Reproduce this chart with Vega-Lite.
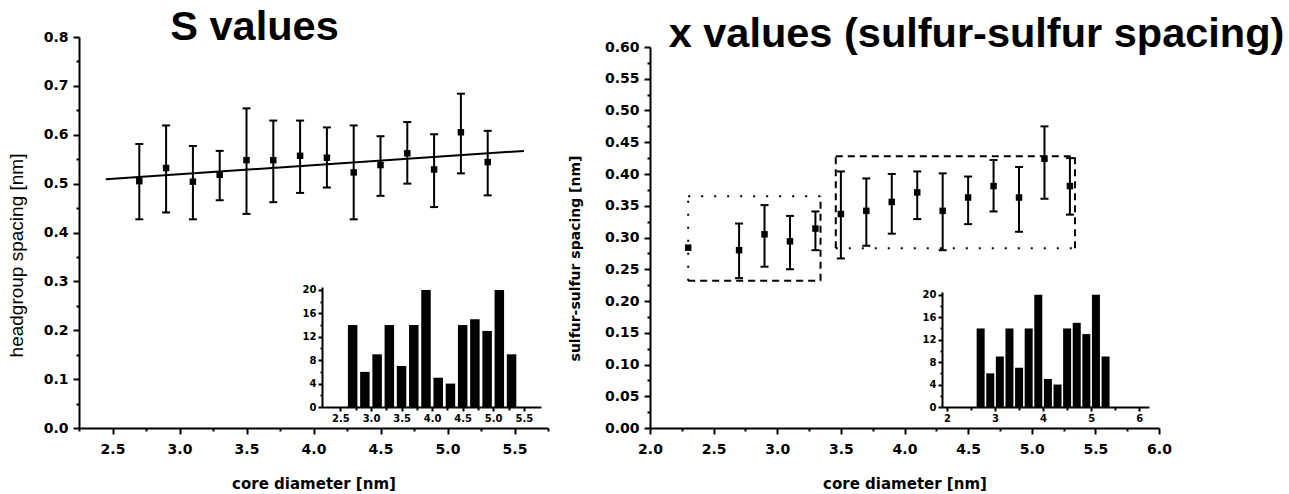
{
  "$schema": "https://vega.github.io/schema/vega-lite/v6.json",
  "background": "white",
  "padding": {"left": 7, "top": 6, "right": 0, "bottom": 0},
  "autosize": {"type": "pad"},
  "spacing": 19,
  "config": {
    "view": {"stroke": null},
    "axis": {"grid": false, "domainColor": "black", "domainWidth": 2, "tickColor": "black", "tickWidth": 2, "labelColor": "black", "titleColor": "black", "labelFont": "DejaVu Sans", "labelFontWeight": "bold", "labelFontSize": 14, "labelFlush": false, "labelOverlap": false, "labelPadding": 5, "titleFont": "DejaVu Sans", "titleFontWeight": "bold", "titleFontSize": 14}
  },
  "datasets": {
    "s_fit": [{"d": 2.45, "s": 0.509}, {"d": 5.57, "s": 0.567}],
    "s_pts": [
      {"d": 2.7, "s": 0.505, "lo": 0.427, "hi": 0.581},
      {"d": 2.9, "s": 0.532, "lo": 0.441, "hi": 0.619},
      {"d": 3.1, "s": 0.504, "lo": 0.427, "hi": 0.577},
      {"d": 3.3, "s": 0.518, "lo": 0.466, "hi": 0.567},
      {"d": 3.5, "s": 0.548, "lo": 0.438, "hi": 0.654},
      {"d": 3.7, "s": 0.548, "lo": 0.462, "hi": 0.629},
      {"d": 3.9, "s": 0.557, "lo": 0.481, "hi": 0.629},
      {"d": 4.1, "s": 0.553, "lo": 0.492, "hi": 0.615},
      {"d": 4.3, "s": 0.523, "lo": 0.427, "hi": 0.619},
      {"d": 4.5, "s": 0.538, "lo": 0.475, "hi": 0.597},
      {"d": 4.7, "s": 0.562, "lo": 0.5, "hi": 0.626},
      {"d": 4.9, "s": 0.529, "lo": 0.452, "hi": 0.601},
      {"d": 5.1, "s": 0.605, "lo": 0.521, "hi": 0.684},
      {"d": 5.3, "s": 0.544, "lo": 0.476, "hi": 0.608}
    ],
    "hist": [
      {"d": 2.7, "n": 14}, {"d": 2.9, "n": 6}, {"d": 3.1, "n": 9}, {"d": 3.3, "n": 14},
      {"d": 3.5, "n": 7}, {"d": 3.7, "n": 14}, {"d": 3.9, "n": 20}, {"d": 4.1, "n": 5},
      {"d": 4.3, "n": 4}, {"d": 4.5, "n": 14}, {"d": 4.7, "n": 15}, {"d": 4.9, "n": 13},
      {"d": 5.1, "n": 20}, {"d": 5.3, "n": 9}
    ],
    "x_pts": [
      {"d": 2.3, "s": 0.284},
      {"d": 2.7, "s": 0.28, "lo": 0.236, "hi": 0.322},
      {"d": 2.9, "s": 0.305, "lo": 0.254, "hi": 0.351},
      {"d": 3.1, "s": 0.294, "lo": 0.25, "hi": 0.334},
      {"d": 3.3, "s": 0.314, "lo": 0.28, "hi": 0.341},
      {"d": 3.5, "s": 0.337, "lo": 0.267, "hi": 0.404},
      {"d": 3.7, "s": 0.342, "lo": 0.287, "hi": 0.393},
      {"d": 3.9, "s": 0.356, "lo": 0.306, "hi": 0.4},
      {"d": 4.1, "s": 0.371, "lo": 0.329, "hi": 0.404},
      {"d": 4.3, "s": 0.342, "lo": 0.28, "hi": 0.401},
      {"d": 4.5, "s": 0.363, "lo": 0.321, "hi": 0.396},
      {"d": 4.7, "s": 0.381, "lo": 0.341, "hi": 0.422},
      {"d": 4.9, "s": 0.363, "lo": 0.309, "hi": 0.411},
      {"d": 5.1, "s": 0.424, "lo": 0.361, "hi": 0.475},
      {"d": 5.3, "s": 0.381, "lo": 0.336, "hi": 0.425}
    ],
    "x_box": [
      {"x": 2.3, "x2": 3.34, "y": 0.232, "y2": 0.232, "style": "dash"},
      {"x": 3.34, "x2": 3.34, "y": 0.232, "y2": 0.365, "style": "dash"},
      {"x": 2.3, "x2": 3.34, "y": 0.365, "y2": 0.365, "style": "dot"},
      {"x": 2.3, "x2": 2.3, "y": 0.232, "y2": 0.365, "style": "dot"},
      {"x": 3.46, "x2": 5.34, "y": 0.428, "y2": 0.428, "style": "dash"},
      {"x": 5.34, "x2": 5.34, "y": 0.283, "y2": 0.428, "style": "dash"},
      {"x": 3.46, "x2": 5.34, "y": 0.283, "y2": 0.283, "style": "dot"},
      {"x": 3.46, "x2": 3.46, "y": 0.283, "y2": 0.428, "style": "dash"}
    ]
  },
  "hconcat": [
    {
      "width": 469,
      "height": 391,
      "title": {"text": "S values", "font": "Liberation Sans", "fontSize": 41.5, "fontWeight": "bold", "color": "black", "anchor": "middle", "dx": -59, "offset": -51, "baseline": "alphabetic"},
      "layer": [
        {"data": {"name": "s_fit"}, "mark": {"type": "line", "color": "black", "strokeWidth": 2},
          "encoding": {
            "x": {"field": "d", "type": "quantitative", "scale": {"domain": [2.25, 5.75], "nice": false, "zero": false},
              "axis": {"orient": "bottom", "title": "core diameter [nm]", "titleFontSize": 15, "titlePadding": 20,
                "values": [2.25, 2.5, 2.75, 3, 3.25, 3.5, 3.75, 4, 4.25, 4.5, 4.75, 5, 5.25, 5.5, 5.75],
                "labelExpr": "round(datum.value*100) % 50 == 0 ? format(datum.value, '.1f') : ''",
                "tickSize": {"condition": {"test": "round(datum.value*100) % 50 == 0", "value": 6}, "value": 3},
                "labelPadding": 8}},
            "y": {"field": "s", "type": "quantitative", "scale": {"domain": [0, 0.8], "nice": false},
              "axis": {"orient": "left", "title": "headgroup spacing [nm]", "titleFont": "Liberation Sans", "titleFontWeight": "normal", "titleFontSize": 19, "titleX": -53, "titleY": 218,
                "values": [0, 0.05, 0.1, 0.15, 0.2, 0.25, 0.3, 0.35, 0.4, 0.45, 0.5, 0.55, 0.6, 0.65, 0.7, 0.75, 0.8],
                "labelExpr": "round(datum.value*100) % 10 == 0 ? format(datum.value, '.1f') : ''",
                "tickSize": {"condition": {"test": "round(datum.value*100) % 10 == 0", "value": 6}, "value": 3}}}}},
        {"data": {"name": "s_pts"}, "mark": {"type": "rule", "color": "black", "strokeWidth": 2},
          "encoding": {
            "x": {"field": "d", "type": "quantitative", "scale": {"domain": [2.25, 5.75], "nice": false, "zero": false}, "axis": null},
            "y": {"field": "lo", "type": "quantitative", "scale": {"domain": [0, 0.8], "nice": false}, "axis": null}, "y2": {"field": "hi"}}},
        {"data": {"name": "s_pts"}, "mark": {"type": "tick", "orient": "horizontal", "color": "black", "size": 8, "thickness": 2, "opacity": 1},
          "encoding": {
            "x": {"field": "d", "type": "quantitative", "scale": {"domain": [2.25, 5.75], "nice": false, "zero": false}, "axis": null},
            "y": {"field": "lo", "type": "quantitative", "scale": {"domain": [0, 0.8], "nice": false}, "axis": null}}},
        {"data": {"name": "s_pts"}, "mark": {"type": "tick", "orient": "horizontal", "color": "black", "size": 8, "thickness": 2, "opacity": 1},
          "encoding": {
            "x": {"field": "d", "type": "quantitative", "scale": {"domain": [2.25, 5.75], "nice": false, "zero": false}, "axis": null},
            "y": {"field": "hi", "type": "quantitative", "scale": {"domain": [0, 0.8], "nice": false}, "axis": null}}},
        {"data": {"name": "s_pts"}, "mark": {"type": "square", "color": "black", "size": 42, "opacity": 1},
          "encoding": {
            "x": {"field": "d", "type": "quantitative", "scale": {"domain": [2.25, 5.75], "nice": false, "zero": false}, "axis": null},
            "y": {"field": "s", "type": "quantitative", "scale": {"domain": [0, 0.8], "nice": false}, "axis": null}}},
        {
          "data": {"name": "hist"},
          "mark": {"type": "bar", "color": "black", "width": 9.5},
          "encoding": {
            "x": {"field": "d", "type": "quantitative", "scale": {"domain": [2.28, 5.7], "range": [243, 462], "nice": false, "zero": false},
              "axis": {"orient": "bottom", "offset": -21, "title": null, "labelFontSize": 10, "labelPadding": 2,
                "values": [2.5, 2.75, 3, 3.25, 3.5, 3.75, 4, 4.25, 4.5, 4.75, 5, 5.25, 5.5],
                "labelExpr": "round(datum.value*100) % 50 == 0 ? format(datum.value, '.1f') : ''",
                "tickSize": {"condition": {"test": "round(datum.value*100) % 50 == 0", "value": 4}, "value": 3}}},
            "y": {"field": "n", "type": "quantitative", "scale": {"domain": [0, 20.5], "range": [370, 250], "nice": false},
              "axis": {"orient": "left", "offset": -243, "title": null, "labelFontSize": 10, "labelPadding": 2,
                "values": [0, 2, 4, 6, 8, 10, 12, 14, 16, 18, 20],
                "labelExpr": "datum.value % 4 == 0 ? format(datum.value, 'd') : ''",
                "tickSize": {"condition": {"test": "datum.value % 4 == 0", "value": 4}, "value": 2}}}
          }
        }
      ],
      "resolve": {"scale": {"x": "independent", "y": "independent"}, "axis": {"x": "independent", "y": "independent"}}
    },
    {
      "width": 509,
      "height": 391,
      "title": {"text": "x values (sulfur-sulfur spacing)", "font": "Liberation Sans", "fontSize": 41.5, "fontWeight": "bold", "color": "black", "anchor": "middle", "dx": 72, "offset": -51, "baseline": "alphabetic"},
      "layer": [
        {"data": {"name": "x_box"}, "mark": {"type": "rule", "color": "black", "strokeWidth": 2},
          "encoding": {
            "x": {"field": "x", "type": "quantitative", "scale": {"domain": [2, 6], "nice": false, "zero": false},
              "axis": {"orient": "bottom", "title": "core diameter [nm]", "titleFontSize": 15, "titlePadding": 20,
                "values": [2, 2.25, 2.5, 2.75, 3, 3.25, 3.5, 3.75, 4, 4.25, 4.5, 4.75, 5, 5.25, 5.5, 5.75, 6],
                "labelExpr": "round(datum.value*100) % 50 == 0 ? format(datum.value, '.1f') : ''",
                "tickSize": {"condition": {"test": "round(datum.value*100) % 50 == 0", "value": 6}, "value": 3},
                "labelPadding": 8}},
            "x2": {"field": "x2"},
            "y": {"field": "y", "type": "quantitative", "scale": {"domain": [0, 0.6], "range": [391, 10], "nice": false},
              "axis": {"orient": "left", "title": "sulfur-sulfur spacing [nm]", "titleFontSize": 14, "titleX": -68, "titleY": 221,
                "values": [0, 0.025, 0.05, 0.075, 0.1, 0.125, 0.15, 0.175, 0.2, 0.225, 0.25, 0.275, 0.3, 0.325, 0.35, 0.375, 0.4, 0.425, 0.45, 0.475, 0.5, 0.525, 0.55, 0.575, 0.6],
                "labelExpr": "round(datum.value*1000) % 50 == 0 ? format(datum.value, '.2f') : ''",
                "tickSize": {"condition": {"test": "round(datum.value*1000) % 50 == 0", "value": 6}, "value": 3}}},
            "y2": {"field": "y2"},
            "strokeDash": {"field": "style", "type": "nominal", "scale": {"domain": ["dash", "dot"], "range": [[7, 5], [2, 11]]}, "legend": null}}},
        {"data": {"name": "x_pts"}, "mark": {"type": "rule", "color": "black", "strokeWidth": 2},
          "encoding": {
            "x": {"field": "d", "type": "quantitative", "scale": {"domain": [2, 6], "nice": false, "zero": false}, "axis": null},
            "y": {"field": "lo", "type": "quantitative", "scale": {"domain": [0, 0.6], "range": [391, 10], "nice": false}, "axis": null}, "y2": {"field": "hi"}}},
        {"data": {"name": "x_pts"}, "mark": {"type": "tick", "orient": "horizontal", "color": "black", "size": 8, "thickness": 2, "opacity": 1},
          "encoding": {
            "x": {"field": "d", "type": "quantitative", "scale": {"domain": [2, 6], "nice": false, "zero": false}, "axis": null},
            "y": {"field": "lo", "type": "quantitative", "scale": {"domain": [0, 0.6], "range": [391, 10], "nice": false}, "axis": null}}},
        {"data": {"name": "x_pts"}, "mark": {"type": "tick", "orient": "horizontal", "color": "black", "size": 8, "thickness": 2, "opacity": 1},
          "encoding": {
            "x": {"field": "d", "type": "quantitative", "scale": {"domain": [2, 6], "nice": false, "zero": false}, "axis": null},
            "y": {"field": "hi", "type": "quantitative", "scale": {"domain": [0, 0.6], "range": [391, 10], "nice": false}, "axis": null}}},
        {"data": {"name": "x_pts"}, "mark": {"type": "square", "color": "black", "size": 42, "opacity": 1},
          "encoding": {
            "x": {"field": "d", "type": "quantitative", "scale": {"domain": [2, 6], "nice": false, "zero": false}, "axis": null},
            "y": {"field": "s", "type": "quantitative", "scale": {"domain": [0, 0.6], "range": [391, 10], "nice": false}, "axis": null}}},
        {
          "data": {"name": "hist"},
          "mark": {"type": "bar", "color": "black", "width": 8},
          "encoding": {
            "x": {"field": "d", "type": "quantitative", "scale": {"domain": [2, 6.1], "range": [292, 499], "nice": false, "zero": false},
              "axis": {"orient": "bottom", "offset": -21, "title": null, "labelFontSize": 10, "labelPadding": 2,
                "values": [2, 2.5, 3, 3.5, 4, 4.5, 5, 5.5, 6],
                "labelExpr": "round(datum.value*10) % 10 == 0 ? format(datum.value, 'd') : ''",
                "tickSize": {"condition": {"test": "round(datum.value*10) % 10 == 0", "value": 4}, "value": 3}}},
            "y": {"field": "n", "type": "quantitative", "scale": {"domain": [0, 20.5], "range": [370, 255], "nice": false},
              "axis": {"orient": "left", "offset": -292, "title": null, "labelFontSize": 10, "labelPadding": 2,
                "values": [0, 2, 4, 6, 8, 10, 12, 14, 16, 18, 20],
                "labelExpr": "datum.value % 4 == 0 ? format(datum.value, 'd') : ''",
                "tickSize": {"condition": {"test": "datum.value % 4 == 0", "value": 4}, "value": 2}}}
          }
        }
      ],
      "resolve": {"scale": {"x": "independent", "y": "independent"}, "axis": {"x": "independent", "y": "independent"}}
    }
  ]
}
